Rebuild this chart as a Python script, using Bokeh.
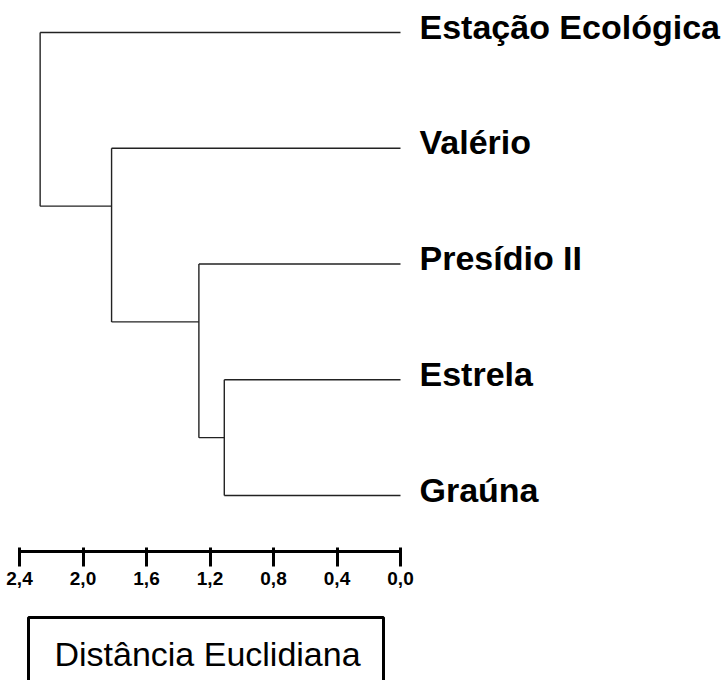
from bokeh.plotting import figure
from bokeh.models import Range1d, LinearAxis, FixedTicker, CustomJSTickFormatter, ColumnDataSource
from bokeh.layouts import column
from bokeh.core.properties import value
from bokeh.embed import file_html
from bokeh.resources import INLINE

# ---- data ----
leaves = ["Estação Ecológica", "Valério", "Presídio II", "Estrela", "Graúna"]
# merges: (child_a, child_b, distance); leaves are 0..4, new nodes 5..8
merge_a = [3, 2, 1, 0]
merge_b = [4, 5, 6, 7]
merge_h = [1.11, 1.27, 1.82, 2.27]
tick_values = [0.0, 0.4, 0.8, 1.2, 1.6, 2.0, 2.4]
axis_title = "Distância Euclidiana"

# ---- dendrogram geometry (leaf order top->bottom) ----
n = len(leaves)
node_y = {i: float(i) for i in range(n)}
node_h = {i: 0.0 for i in range(n)}
node_top = {i: i for i in range(n)}
x0s, y0s, x1s, y1s = [], [], [], []
for k, (a, b, h) in enumerate(zip(merge_a, merge_b, merge_h)):
    nid = n + k
    for c in (a, b):
        x0s.append(node_h[c]); y0s.append(node_y[c]); x1s.append(h); y1s.append(node_y[c])
    x0s.append(h); y0s.append(node_y[a]); x1s.append(h); y1s.append(node_y[b])
    top = min(node_top[a], node_top[b])
    node_top[nid] = top
    node_y[nid] = top + 0.5
    node_h[nid] = h

W = 726
zero_px = 400
px_per_unit = 158.75
x_start = 2.4 + 19 / px_per_unit
x_end = -(W - zero_px) / px_per_unit
frame_h = 551
first_leaf_px = 32
px_per_leaf = 115.75
y_top = -first_leaf_px / px_per_leaf
y_bot = (frame_h - first_leaf_px) / px_per_leaf

p = figure(width=W, height=613, output_backend="svg", toolbar_location=None,
           x_axis_type=None, y_axis_type=None,
           x_range=Range1d(x_start, x_end), y_range=Range1d(y_bot, y_top),
           min_border_left=0, min_border_right=0, min_border_top=0, min_border_bottom=62)
p.outline_line_color = None
p.xgrid.visible = False
p.ygrid.visible = False

p.segment(x0=x0s, y0=y0s, x1=x1s, y1=y1s, line_color="#222222", line_width=1.4)

src = ColumnDataSource(dict(x=[0.0] * n, y=list(range(n)), t=leaves))
p.text(x="x", y="y", text="t", source=src, x_offset=19, y_offset=-6,
       text_align="left", text_baseline="middle",
       text_font=value("Liberation Sans"), text_font_style="bold",
       text_font_size="34px", text_color="black")

ax = LinearAxis(ticker=FixedTicker(ticks=tick_values),
                formatter=CustomJSTickFormatter(code="return tick.toFixed(1).replace('.', ',');"))
ax.bounds = (0, 2.4)
ax.axis_line_width = 3
ax.axis_line_color = "black"
ax.major_tick_line_width = 3
ax.major_tick_line_color = "black"
ax.major_tick_in = 4
ax.major_tick_out = 15
ax.minor_tick_line_color = None
ax.major_label_standoff = 5
ax.major_label_text_font = "Liberation Sans"
ax.major_label_text_font_style = "bold"
ax.major_label_text_font_size = "19px"
ax.major_label_text_color = "black"
p.add_layout(ax, "below")

# ---- title box ----
H2 = 67
q = figure(width=W, height=H2, output_backend="svg", toolbar_location=None,
           x_axis_type=None, y_axis_type=None,
           x_range=Range1d(0, W), y_range=Range1d(H2, 0),
           min_border_left=0, min_border_right=0, min_border_top=0, min_border_bottom=0)
q.outline_line_color = None
q.xgrid.visible = False
q.ygrid.visible = False
q.multi_line(xs=[[28, 28, 383, 383]], ys=[[100, 4, 4, 100]], line_color="black", line_width=3)
q.text(x=[207], y=[40], text=[axis_title], text_align="center", text_baseline="middle",
       text_font=value("Liberation Sans"), text_font_size="34px", text_color="black")

layout = column(p, q, spacing=0)
open("out.html", "w").write(file_html(layout, INLINE))
